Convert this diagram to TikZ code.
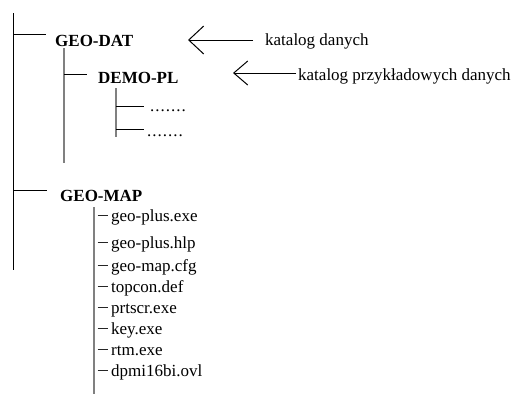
\documentclass[tikz,border=0pt]{standalone}
\usepackage{fontspec}
\setmainfont{Liberation Serif}
\usetikzlibrary{arrows.meta}
\newcommand\rowdots{.\kern1pt.\kern1pt.\kern1pt.\kern1pt.\kern1pt.\kern1pt.}
\tikzset{
  txt/.style={font=\fontsize{17}{20}\selectfont, inner sep=0pt, anchor=base west},
  dirn/.style={txt, font=\fontsize{17}{20}\selectfont\bfseries},
  blk/.style={line width=1pt, black},
  dashln/.style={line width=0.9pt, black!85},
  gry/.style={line width=1.6pt, color=black!50},
  note/.style={line width=1pt, -{Straight Barb[length=15pt,width=28pt]}},
  note2/.style={line width=1pt, -{Straight Barb[length=14pt,width=24pt]}}
}
\begin{document}
\begin{tikzpicture}[x=1pt,y=-1pt]
\useasboundingbox (0,0) rectangle (515,394);
% labels
\node[dirn] (gd) at (55,46) {GEO-DAT};
\node[dirn] (dp) at (98,83) {DEMO-PL};
\node[txt] (d1) at (150,111) {\rowdots};
\node[txt] (d2) at (147,136) {\rowdots};
\node[dirn] (gm) at (60,201) {GEO-MAP};
\node[txt] (k1) at (265,45) {katalog danych};
\node[txt] (k2) at (298,80) {katalog przykładowych danych};
% files
\foreach \n/\y/\t in {f1/221/geo-plus.exe, f2/248/geo-plus.hlp, f3/271/geo-map.cfg, f4/292/topcon.def, f5/313/prtscr.exe, f6/334/key.exe, f7/355/rtm.exe, f8/376/dpmi16bi.ovl}{
  \node[txt] (\n) at (111,\y) {\t};
  \coordinate (\n a) at (97.5,\y-5.5);
  \coordinate (\n b) at (108,\y-5.5);
  \draw[dashln] (\n a) -- (\n b);
}
% tree coordinates
\coordinate (rt) at (13,13);
\coordinate (rb) at (13,270);
\coordinate (r1) at (13,34);
\coordinate (r1e) at (46,34);
\coordinate (r2) at (13,190);
\coordinate (r2e) at (47,190);
\coordinate (dt) at (64,48);
\coordinate (db) at (64,163);
\coordinate (d0) at (64,74);
\coordinate (d0e) at (87,74);
\coordinate (st) at (116,88);
\coordinate (sb) at (116,137);
\coordinate (s1) at (116,106);
\coordinate (s1e) at (144,106);
\coordinate (s2) at (116,129);
\coordinate (s2e) at (144,129);
\coordinate (ft) at (94,207);
\coordinate (fb) at (94,394);
\draw[blk] (rt) -- (rb);
\draw[blk] (r1) -- (r1e);
\draw[blk] (r2) -- (r2e);
\draw[gry] (dt) -- (db);
\draw[blk] (d0) -- (d0e);
\draw[gry] (st) -- (sb);
\draw[blk] (s1) -- (s1e);
\draw[blk] (s2) -- (s2e);
\draw[gry] (ft) -- (fb);
% arrows
\coordinate (a1s) at (253,40);
\coordinate (a1t) at (188,40);
\coordinate (a2s) at (296,73);
\coordinate (a2t) at (233,73);
\draw[note] (a1s) -- (a1t);
\draw[note2] (a2s) -- (a2t);
\end{tikzpicture}
\end{document}
